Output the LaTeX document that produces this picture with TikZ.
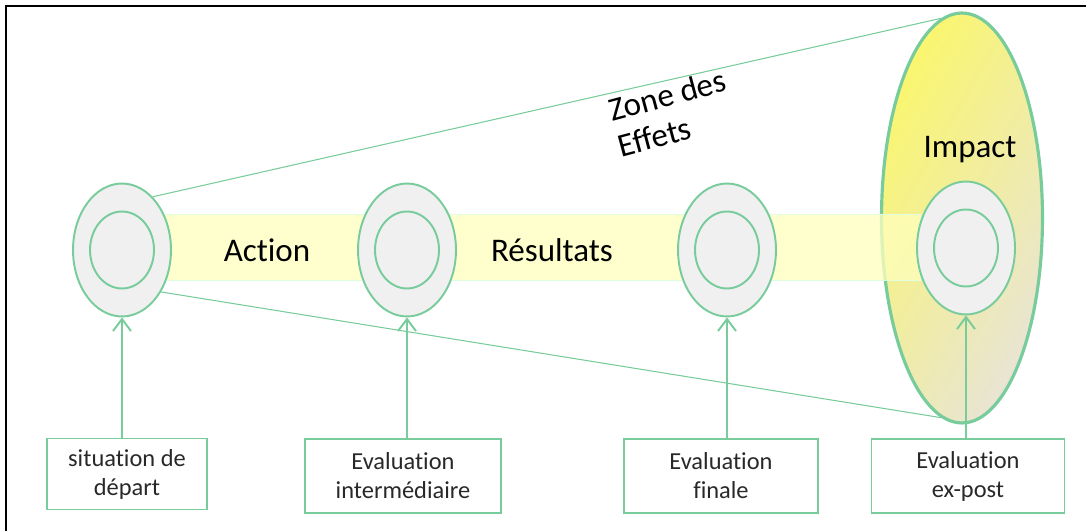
\documentclass[tikz,border=0pt]{standalone}
\usepackage{fontspec}
\setmainfont{Carlito}[Ligatures=NoCommon]
\usetikzlibrary{arrows.meta,shapes.geometric}

\definecolor{zonegreen}{RGB}{120,204,155}
\definecolor{ringgray}{RGB}{240,240,240}
\definecolor{bandyellow}{RGB}{255,255,190}
\definecolor{impyellow}{RGB}{250,246,110}
\definecolor{impbeige}{RGB}{232,228,212}
\definecolor{boxtext}{RGB}{40,40,40}

\begin{document}
\begin{tikzpicture}[
    x=0.02cm, y=0.02cm,
    outer/.style={
        draw=zonegreen,
        ellipse,
        fill=ringgray,
        line width=1.1pt,
        minimum width=1.96cm,
        minimum height=2.66cm,
        inner sep=0pt
    },
    inner/.style={
        draw=zonegreen,
        ellipse,
        line width=1.1pt,
        minimum width=1.28cm,
        minimum height=1.54cm,
        inner sep=0pt
    },
    evalbox/.style={
        draw=zonegreen,
        line width=1.1pt,
        align=center,
        minimum height=1.48cm,
        inner sep=0pt,
        text=boxtext,
        font=\fontsize{13.9}{16.5}\selectfont
    },
    arrow/.style={-{Straight Barb[length=0.24cm, width=0.36cm, line width=1.1pt]}, line width=1.1pt, zonegreen},
    zoneline/.style={zonegreen, line width=0.6pt},
    label/.style={align=center, font=\fontsize{18.8}{21}\selectfont}
]

\useasboundingbox (0,0) rectangle (1086,531);

% ============================================================
% Frame
% ============================================================

\draw[line width=1.2pt] (5,525) -- (1086,525);
\draw[line width=1.2pt] (6,525) -- (6,0);

% ============================================================
% Zone of effects
% ============================================================

\node[
    ellipse,
    draw=zonegreen,
    line width=1.8pt,
    left color=impyellow,
    right color=impbeige,
    shading angle=60,
    minimum width=3.22cm,
    minimum height=8.2cm
] (impact) at (962,313) {};

\node[
    draw=green!12,
    fill=bandyellow,
    fill opacity=0.75,
    minimum width=16cm,
    minimum height=1.32cm,
    inner sep=0pt
] (band) at (520,284) {};

% ============================================================
% Evaluation points
% ============================================================

\node[outer] (e1) at (122,281) {};
\node[outer] (e2) at (407,281) {};
\node[outer] (e3) at (727,281) {};
\node[outer] (e4) at (966,283) {};

\node[inner] (i1) at (e1) {};
\node[inner] (i2) at (e2) {};
\node[inner] (i3) at (e3) {};
\node[inner] (i4) at (e4) {};

\draw[zoneline] (e1.60) -- (impact.96);
\draw[zoneline] (e1.-47) -- (impact.264);

% Labels

\node[label] (action) at (267,281) {Action};
\node[label] (results) at (552,281) {Résultats};
\node[label] (impacttext) at (970,381) {Impact};
\node[label, align=left, rotate=15] (zone) at (672,418) {Zone des\\ Effets};

% ============================================================
% Evaluation boxes
% ============================================================

\node[evalbox, minimum width=3.2cm, minimum height=1.42cm] (start) at (127,57)
    {situation de\\ départ};
\node[evalbox, minimum width=3.92cm] (middle) at (403,55)
    {Evaluation\\ intermédiaire};
\node[evalbox, minimum width=3.88cm] (final) at (721,55)
    {Evaluation\\ finale};
\node[evalbox, minimum width=3.86cm] (expost) at (968,55)
    {Evaluation\\ ex-post};

% Arrows

\draw[arrow] (start.north -| e1.south) -- (e1.south);
\draw[arrow] (middle.north -| e2.south) -- (e2.south);
\draw[arrow] (final.north -| e3.south) -- (e3.south);
\draw[arrow] (expost.north -| e4.south) -- (e4.south);

\end{tikzpicture}
\end{document}
